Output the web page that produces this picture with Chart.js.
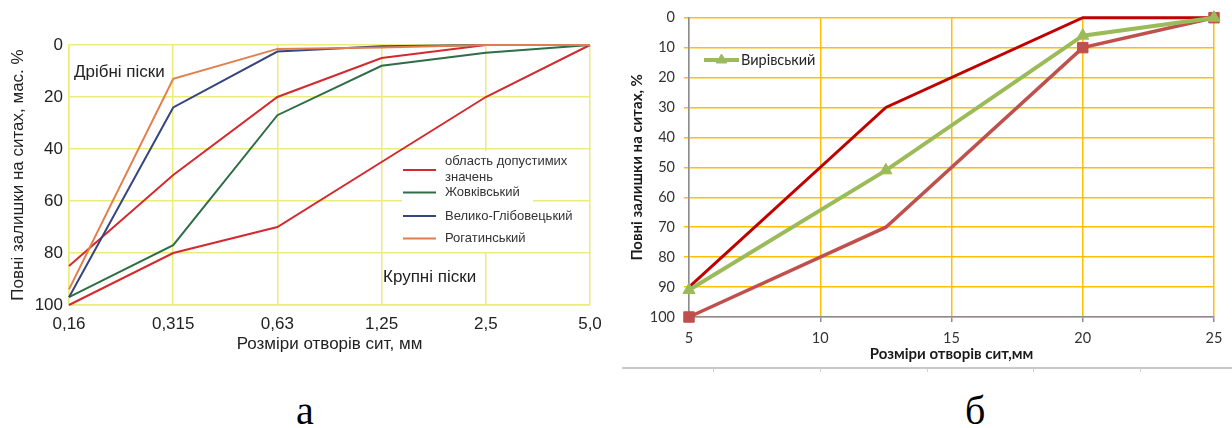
<!DOCTYPE html>
<html>
<head>
<meta charset="utf-8">
<script src="https://cdn.jsdelivr.net/npm/chart.js@4.4.1/dist/chart.umd.min.js"></script>
<style>
  html, body { margin: 0; padding: 0; background: #fff; }
  #page { position: relative; width: 1232px; height: 428px; overflow: hidden; background: #fff; }
  .pane { position: absolute; }
  canvas { display: block; }
  .note { position: absolute; font-family: 'Liberation Sans', Arial, sans-serif; font-size: 17px;
          line-height: 20px; color: #222; white-space: nowrap; }
  .cap { position: absolute; font-family: 'Liberation Serif', 'Times New Roman', serif; font-size: 40px;
         line-height: 40px; color: #000; }
  .rule { position: absolute; left: 622px; top: 367px; width: 610px; height: 2px; background: #c9c9c9; }
  .rule i { position: absolute; top: 2px; width: 1px; height: 3px; background: #d0d0d0; }
</style>
</head>
<body>
<div id="page">
  <div class="pane" style="left:0;top:0;"><canvas id="sandChart" width="615" height="360"></canvas></div>
  <div class="pane" style="left:615px;top:0;"><canvas id="gravelChart" width="617" height="370"></canvas></div>
  <div class="note" style="left:74px;top:62px;">Дрібні піски</div>
  <div class="note" style="left:383px;top:267px;">Крупні піски</div>
  <div class="rule"><i style="left:91px"></i><i style="left:198px"></i><i style="left:305px"></i><i style="left:411px"></i><i style="left:518px"></i></div>
  <div class="cap" style="left:296px;top:391px;">а</div>
  <div class="cap" style="left:965px;top:391px;">б</div>
</div>
<script>
// --- sand grading (а): sieve openings and total residues, % by mass ---
const sieveLabels = ['0,16', '0,315', '0,63', '1,25', '2,5', '5,0'];
const fineLimit = [85, 50, 20, 5, 0, 0];
const coarseLimit = [100, 80, 70, 45, 20, 0];
const zhovkva = [97, 77, 27, 8, 3, 0];
const velykoHlibovets = [97, 24, 2.5, 0.5, 0, 0];
const rohatyn = [94, 13, 1.5, 1, 0, 0];

// --- gravel grading (б): sieve openings, mm, and total residues, % ---
const gravelSizes = [5, 12.5, 20, 25];
const gravelUpper = [90, 30, 0, 0];
const gravelLower = [100, 70, 10, 0];
const vyrivskyi = [91, 51, 6, 0];

const toPoints = (xs, ys) => xs.map((x, i) => ({ x, y: ys[i] }));

// legend drawn inside the plot area, using each dataset's own line style
const insideLegend = {
  id: 'insideLegend',
  beforeDatasetsDraw(chart, _args, o) {
    if (!o.box) return;
    const ctx = chart.ctx;
    ctx.save();
    ctx.fillStyle = o.box.color;
    ctx.fillRect(o.box.x, o.box.y, o.box.w, o.box.h);
    ctx.restore();
  },
  afterDatasetsDraw(chart, _args, o) {
    if (!o.items) return;
    const ctx = chart.ctx;
    ctx.save();
    ctx.textBaseline = 'middle';
    ctx.textAlign = 'left';
    ctx.font = o.font;
    o.items.forEach(it => {
      const ds = chart.data.datasets[it.dataset];
      ctx.strokeStyle = ds.borderColor;
      ctx.lineWidth = ds.borderWidth;
      ctx.lineCap = 'butt';
      ctx.beginPath();
      ctx.moveTo(o.x, it.y);
      ctx.lineTo(o.x + o.len, it.y);
      ctx.stroke();
      if (it.marker) {
        ctx.fillStyle = ds.pointBackgroundColor;
        ctx.strokeStyle = ds.pointBorderColor;
        ctx.lineWidth = 1;
        Chart.helpers.drawPoint(ctx, { pointStyle: ds.pointStyle, radius: it.marker, borderWidth: 1, rotation: 0 },
          o.x + o.len / 2, it.y);
      }
      ctx.fillStyle = o.color;
      it.text.forEach((t, i) => ctx.fillText(t, o.textX, it.ty + i * o.lh));
    });
    ctx.restore();
  }
};

const sansFont = "'Liberation Sans', Arial, sans-serif";
const sandGrid = '#ECEC7C';

new Chart(document.getElementById('sandChart'), {
  type: 'line',
  plugins: [insideLegend],
  data: {
    labels: sieveLabels,
    datasets: [
      { label: 'Рогатинський', data: rohatyn, borderColor: '#E27E4C', borderWidth: 2 },
      { label: 'Велико-Глібовецький', data: velykoHlibovets, borderColor: '#36457F', borderWidth: 2 },
      { label: 'Жовківський', data: zhovkva, borderColor: '#2E6E47', borderWidth: 2 },
      { label: 'область допустимих значень', data: fineLimit, borderColor: '#D42A2E', borderWidth: 2 },
      { label: 'область допустимих значень', data: coarseLimit, borderColor: '#D42A2E', borderWidth: 2 }
    ]
  },
  options: {
    responsive: false,
    animation: false,
    layout: { padding: { top: 45, right: 25, left: 0, bottom: 0 } },
    elements: { point: { radius: 0 }, line: { tension: 0 } },
    datasets: { line: { clip: false } },
    plugins: {
      legend: { display: false },
      tooltip: { enabled: false },
      insideLegend: {
        box: { x: 402, y: 151, w: 131, h: 101, color: '#ffffff' },
        x: 403, len: 33, textX: 445, lh: 16,
        font: "13px 'Liberation Sans', Arial, sans-serif", color: '#333',
        items: [
          { dataset: 3, y: 170, ty: 161, text: ['область допустимих', 'значень'] },
          { dataset: 2, y: 192.5, ty: 192.5, text: ['Жовківський'] },
          { dataset: 1, y: 216, ty: 216, text: ['Велико-Глібовецький'] },
          { dataset: 0, y: 238.5, ty: 238.5, text: ['Рогатинський'] }
        ]
      }
    },
    scales: {
      x: {
        afterFit(scale) { scale.height = 55; },
        grid: { color: sandGrid, lineWidth: 1.5, drawTicks: false },
        border: { color: sandGrid, width: 1.5 },
        ticks: { color: '#222', font: { family: sansFont, size: 17 }, padding: 9, maxRotation: 0 },
        title: { display: true, text: 'Розміри отворів сит, мм', color: '#222',
                 font: { family: sansFont, size: 17 }, padding: { top: 0, bottom: 5 } }
      },
      y: {
        reverse: true, min: 0, max: 100,
        afterFit(scale) { scale.width = 69; },
        grid: { color: sandGrid, lineWidth: 1.5, drawTicks: false },
        border: { color: sandGrid, width: 1.5 },
        ticks: { stepSize: 20, color: '#222', font: { family: sansFont, size: 17 }, padding: 6 },
        title: { display: true, text: 'Повні залишки на ситах, мас. %', color: '#222',
                 font: { family: sansFont, size: 17 }, padding: { top: 8, bottom: 0 } }
      }
    }
  }
});

const latoFont = "Lato, 'Open Sans', sans-serif";
const gold = '#FFC000';
const axisGray = '#8C8C8C';

new Chart(document.getElementById('gravelChart'), {
  type: 'line',
  plugins: [insideLegend],
  data: {
    datasets: [
      { label: 'Вирівський', data: toPoints(gravelSizes, vyrivskyi), borderColor: '#9BBB59', borderWidth: 4,
        pointStyle: 'triangle', pointRadius: 7, pointBackgroundColor: '#9BBB59', pointBorderColor: '#9BBB59',
        pointBorderWidth: 1 },
      { label: 'lower', data: toPoints(gravelSizes, gravelLower), borderColor: '#C0504D', borderWidth: 3.5,
        pointStyle: 'rect', pointRadius: [7.4, 0, 7.4, 7.4], pointBackgroundColor: '#C0504D',
        pointBorderColor: '#C0504D', pointBorderWidth: 1 },
      { label: 'upper', data: toPoints(gravelSizes, gravelUpper), borderColor: '#C00000', borderWidth: 3,
        pointRadius: 0 }
    ]
  },
  options: {
    responsive: false,
    animation: false,
    layout: { padding: { top: 17, right: 18, left: 0, bottom: 0 } },
    elements: { line: { tension: 0 } },
    datasets: { line: { clip: false } },
    plugins: {
      legend: { display: false },
      tooltip: { enabled: false },
      insideLegend: {
        x: 89, len: 35, textX: 126, lh: 16,
        font: "14.5px Lato, 'Open Sans', sans-serif", color: '#262626',
        items: [ { dataset: 0, y: 60, ty: 60, marker: 6, text: ['Вирівський'] } ]
      }
    },
    scales: {
      x: {
        type: 'linear', min: 5, max: 25,
        afterFit(scale) { scale.height = 53; },
        grid: { color: gold, lineWidth: 1.5, drawTicks: true, tickLength: 5, tickColor: axisGray, tickWidth: 1.5 },
        border: { color: axisGray, width: 1.5 },
        ticks: { stepSize: 5, color: '#333', font: { family: latoFont, size: 14.5 }, padding: 8, maxRotation: 0 },
        title: { display: true, text: 'Розміри отворів сит,мм', color: '#1a1a1a',
                 font: { family: latoFont, size: 15, weight: 'bold' }, padding: { top: 0, bottom: 7 } }
      },
      y: {
        reverse: true, min: 0, max: 100,
        afterFit(scale) { scale.width = 74; },
        grid: { color: gold, lineWidth: 1.5, drawTicks: true, tickLength: 5, tickColor: gold },
        border: { color: axisGray, width: 1.5 },
        ticks: { stepSize: 10, color: '#333', font: { family: latoFont, size: 14.5 }, padding: 9 },
        title: { display: true, text: 'Повні залишки на ситах, %', color: '#1a1a1a',
                 font: { family: latoFont, size: 15, weight: 'bold' }, padding: { top: 13, bottom: 0 } }
      }
    }
  }
});
</script>
</body>
</html>
